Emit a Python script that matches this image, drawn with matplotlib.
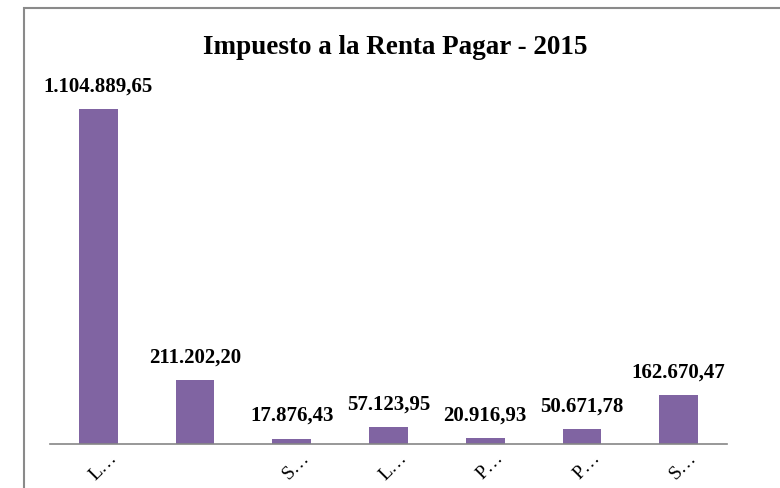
import matplotlib.pyplot as plt
import matplotlib.transforms as mtransforms
from matplotlib.patches import Rectangle

# truncated category names as they appear on the chart
categories = ["L\u2026", "", "S\u2026", "L\u2026", "P\u2026", "P\u2026", "S\u2026"]
values = [1104889.65, 211202.20, 17876.43, 57123.95, 20916.93, 50671.78, 162670.47]
value_labels = ["1.104.889,65", "211.202,20", "17.876,43", "57.123,95",
                "20.916,93", "50.671,78", "162.670,47"]

plt.rcParams["font.family"] = ["Liberation Serif", "DejaVu Serif"]

fig = plt.figure(figsize=(7.8, 4.88), dpi=100)
ax = fig.add_axes([50 / 780, 44 / 488, 677 / 780, 364 / 488])

x = range(len(categories))
bars = ax.bar(x, values, width=0.4, color="#8064A2")

for bar, lab in zip(bars, value_labels):
    ax.annotate(lab, (bar.get_x() + bar.get_width() / 2, bar.get_height()),
                xytext=(0, 9), textcoords="offset points",
                ha="center", va="bottom", fontsize=15, fontweight="bold")

ax.set_xlim(-0.5, len(categories) - 0.5)
ax.set_ylim(0, 1200000)
ax.set_xticks(list(x))
ax.set_xticklabels(categories, rotation=45, ha="center", fontsize=14)
ax.tick_params(axis="x", length=0, pad=4)
shift = mtransforms.ScaledTranslation(5 / 100, 0, fig.dpi_scale_trans)
for lbl in ax.get_xticklabels():
    lbl.set_transform(lbl.get_transform() + shift)
ax.set_yticks([])
for side in ["top", "right", "left"]:
    ax.spines[side].set_visible(False)
ax.spines["bottom"].set_color("#868686")
ax.spines["bottom"].set_linewidth(1.2)

fig.text(395 / 780, 1 - 47 / 488, "Impuesto a la Renta Pagar - 2015",
         ha="center", va="center", fontsize=19.5, fontweight="bold")

# outer chart frame, cut off at right and bottom
fig.patches.append(Rectangle((24 / 780, -0.2), 1.2, 1 - 8 / 488 + 0.2,
                             transform=fig.transFigure, fill=False,
                             edgecolor="#8a8a8a", linewidth=1.5))

fig.savefig("out.png", dpi=100)
